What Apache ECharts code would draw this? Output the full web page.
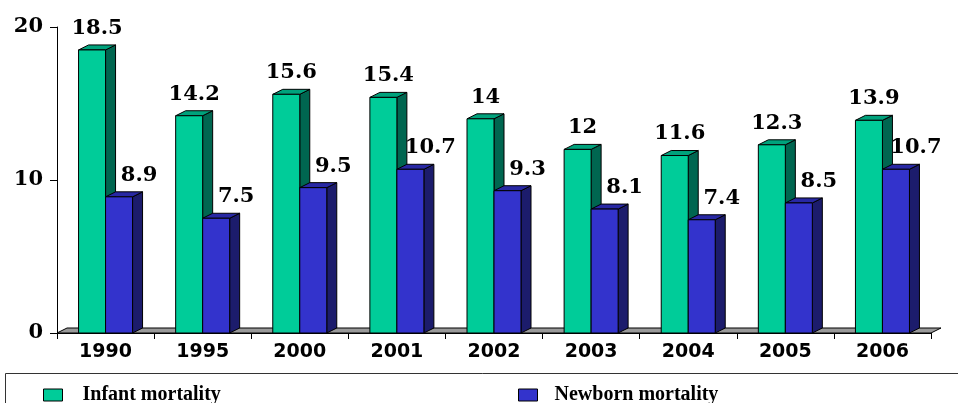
<!DOCTYPE html>
<html>
<head>
<meta charset="utf-8">
<script src="https://cdn.jsdelivr.net/npm/echarts@6/dist/echarts.min.js"></script>
<style>
html, body { margin: 0; padding: 0; background: #fff; }
#chart { width: 958px; height: 403px; }
</style>
</head>
<body>
<div id="chart"></div>
<script>
const years = ['1990', '1995', '2000', '2001', '2002', '2003', '2004', '2005', '2006']
const infantMortality = [18.5, 14.2, 15.6, 15.4, 14, 12, 11.6, 12.3, 13.9]
const newbornMortality = [8.9, 7.5, 9.5, 10.7, 9.3, 8.1, 7.4, 8.5, 10.7]

// 3d look: depth of the side / top faces
const DX = 10
const DY = 5
const BAR_W = 27

function bar3d(colors, leftOfCenter, labelDx) {
  return function(params, api) {
    const val = api.value(1)
    const top = api.coord([api.value(0), val])
    const base = api.coord([api.value(0), 0])
    const x0 = leftOfCenter ? top[0] - BAR_W : top[0]
    const x1 = x0 + BAR_W
    const yt = top[1]
    const yb = base[1]
    return {
      type: 'group',
      children: [
        { // side face
          type: 'polygon',
          shape: { points: [[x1, yt], [x1 + DX, yt - DY], [x1 + DX, yb - DY], [x1, yb]] },
          style: { fill: colors.side, stroke: '#000', lineWidth: 1 }
        },
        { // top face
          type: 'polygon',
          shape: { points: [[x0, yt], [x0 + DX, yt - DY], [x1 + DX, yt - DY], [x1, yt]] },
          style: { fill: colors.top, stroke: '#000', lineWidth: 1 }
        },
        { // front
          type: 'rect',
          shape: { x: x0, y: yt, width: BAR_W, height: yb - yt },
          style: { fill: colors.front, stroke: '#000', lineWidth: 1 }
        },
        {
          type: 'text',
          style: {
            text: String(val),
            x: (x0 + x1) / 2 + labelDx,
            y: yt - 11,
            align: 'center',
            verticalAlign: 'bottom',
            font: 'bold 21px "DejaVu Serif"',
            fill: '#000'
          }
        }
      ]
    }
  }
}

const green = { front: '#00CC99', side: '#006650', top: '#00A27C' }
const blue = { front: '#3333CC', side: '#1C1C6C', top: '#2828A4' }

const legendBase = {
  top: 380,
  itemWidth: 19,
  itemHeight: 12,
  icon: 'rect',
  itemStyle: { borderColor: '#000', borderWidth: 1 },
  textStyle: {
    fontFamily: 'Liberation Serif',
    fontWeight: 'bold',
    fontSize: 20,
    color: '#000'
  }
}

const myChart = echarts.init(document.getElementById('chart'))
myChart.setOption({
  animation: false,
  grid: { left: 57, right: 27, top: 27, bottom: 70 },
  legend: [
    Object.assign({}, legendBase, {
      left: 38,
      data: ['Infant mortality'],
      textStyle: Object.assign({}, legendBase.textStyle, { padding: [0, 0, 0, 15] })
    }),
    Object.assign({}, legendBase, {
      left: 513,
      data: ['Newborn mortality'],
      textStyle: Object.assign({}, legendBase.textStyle, { padding: [0, 0, 0, 12] })
    })
  ],
  graphic: [{
    type: 'rect',
    x: 5.5,
    y: 373.5,
    shape: { x: 0, y: 0, width: 1000, height: 100 },
    style: { fill: 'none', stroke: '#333', lineWidth: 1 },
    silent: true
  }],
  xAxis: {
    type: 'category',
    data: years,
    axisLine: { show: true, lineStyle: { color: '#000', width: 1 } },
    axisTick: { show: true, length: 6, lineStyle: { color: '#000' } },
    axisLabel: {
      color: '#000',
      fontFamily: 'DejaVu Sans',
      fontWeight: 'bold',
      fontSize: 19,
      margin: 10
    }
  },
  yAxis: {
    type: 'value',
    min: 0,
    max: 20,
    interval: 10,
    splitLine: { show: false },
    axisLine: { show: true, lineStyle: { color: '#000', width: 1 } },
    axisTick: { show: true, length: 7, lineStyle: { color: '#000' } },
    axisLabel: {
      color: '#000',
      fontFamily: 'DejaVu Serif',
      fontWeight: 'bold',
      fontSize: 21,
      margin: 14
    }
  },
  series: [
    {
      name: 'floor',
      type: 'custom',
      silent: true,
      z: 1,
      renderItem: function(params, api) {
        const cs = params.coordSys
        const yb = cs.y + cs.height
        return {
          type: 'polygon',
          shape: { points: [[cs.x, yb], [cs.x + DX, yb - DY], [cs.x + cs.width + DX, yb - DY], [cs.x + cs.width, yb]] },
          style: { fill: '#9A9A9A', stroke: '#000', lineWidth: 1 }
        }
      },
      data: [[0, 0]]
    },
    {
      name: 'Infant mortality',
      type: 'custom',
      z: 2,
      itemStyle: { color: green.front },
      renderItem: bar3d(green, true, 5),
      encode: { x: 0, y: 1 },
      data: infantMortality.map((v, i) => [i, v])
    },
    {
      name: 'Newborn mortality',
      type: 'custom',
      z: 3,
      itemStyle: { color: blue.front },
      renderItem: bar3d(blue, false, 20),
      encode: { x: 0, y: 1 },
      data: newbornMortality.map((v, i) => [i, v])
    }
  ]
})
</script>
</body>
</html>
